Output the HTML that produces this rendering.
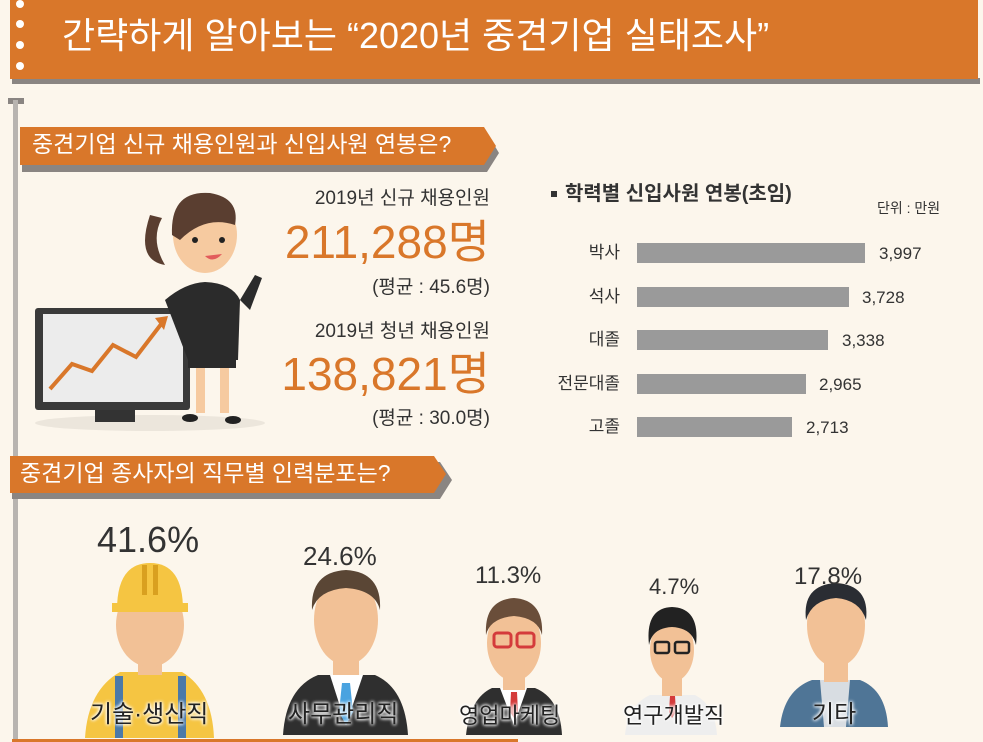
<!DOCTYPE html>
<html><head><meta charset="utf-8">
<style>
body{margin:0;width:983px;height:742px;overflow:hidden;background:#fcf6ec;font-family:"Liberation Sans","Noto Sans CJK KR",sans-serif;}
.t{position:absolute;white-space:nowrap;line-height:1;}
.lb{text-shadow:0 0 3px #fff,0 0 3px #fff,0 0 4px #fff;}
</style></head><body>
<svg width="983" height="742" style="position:absolute;left:0;top:0">
<rect x="12" y="78" width="968" height="6" fill="#8a8582"/>
<rect x="10" y="0" width="968" height="79" fill="#d9772a"/>
<g fill="#fff"><circle cx="20" cy="4" r="4"/><circle cx="20" cy="24" r="4"/><circle cx="20" cy="45" r="4"/><circle cx="20" cy="66" r="4"/></g>
<rect x="8" y="98" width="16" height="6" fill="#8a8582"/>
<rect x="13" y="100" width="5" height="642" fill="#b8b4b0"/>
<polygon points="22,133 487,133 499,153 487,172 22,172" fill="#8a8582"/>
<polygon points="20,127 484,127 496,146 484,165 20,165" fill="#d9772a"/>
<polygon points="12,462 440,462 452,480 440,499 12,499" fill="#8a8582"/>
<polygon points="10,456 434,456 446,474 434,493 10,493" fill="#d9772a"/>
<rect x="12" y="739" width="506" height="3" fill="#d9772a"/>
<ellipse cx="150" cy="423" rx="115" ry="8" fill="#ece6dc"/>
<rect x="35" y="308" width="155" height="102" rx="3" fill="#3a3a3a"/>
<rect x="43" y="314" width="140" height="88" fill="#ececec"/>
<polyline points="50,389 72,364 92,371 113,345 136,357 162,323" fill="none" stroke="#d9772a" stroke-width="4"/>
<polygon points="155,318 168,316 164,330" fill="#d9772a"/>
<rect x="95" y="410" width="40" height="12" fill="#333"/>
<path d="M150 215 Q135 260 165 265 Q150 240 162 218Z" fill="#5a3e30"/>
<ellipse cx="205" cy="235" rx="32" ry="38" fill="#f6caa0"/>
<path d="M172 235 Q170 190 210 193 Q240 198 235 225 Q205 215 180 240Z" fill="#5a3e30"/>
<circle cx="195" cy="240" r="3" fill="#222"/><circle cx="222" cy="240" r="3" fill="#222"/>
<path d="M205 256 Q213 264 222 254Z" fill="#e25b5b"/>
<path d="M165 300 Q185 283 205 282 Q232 283 240 300 L238 360 L188 360 Z" fill="#2b2b2b"/>
<path d="M240 300 L255 275 L262 278 L250 310Z" fill="#2b2b2b"/>
<rect x="188" y="340" width="48" height="28" fill="#2b2b2b"/>
<rect x="196" y="368" width="9" height="45" fill="#f6caa0"/><rect x="220" y="368" width="9" height="45" fill="#f6caa0"/>
<ellipse cx="190" cy="418" rx="8" ry="4" fill="#222"/><ellipse cx="233" cy="420" rx="8" ry="4" fill="#222"/>
<g fill="#9a9a9a">
<rect x="637" y="243" width="228" height="20"/>
<rect x="637" y="287" width="212" height="20"/>
<rect x="637" y="330" width="191" height="20"/>
<rect x="637" y="374" width="169" height="20"/>
<rect x="637" y="417" width="155" height="20"/>
</g>
<rect x="551" y="191" width="6" height="6" fill="#333"/>
<path d="M85 738 Q88 690 120 672 L182 672 Q212 690 214 738Z" fill="#f5c542"/>
<rect x="115" y="676" width="8" height="62" fill="#4b79a8"/><rect x="178" y="676" width="8" height="62" fill="#4b79a8"/>
<rect x="138" y="640" width="24" height="35" fill="#f2c196"/>
<ellipse cx="150" cy="625" rx="34" ry="42" fill="#f2c196"/>
<path d="M117 610 Q117 563 150 563 Q183 563 183 610Z" fill="#f5c542"/>
<rect x="112" y="603" width="76" height="9" fill="#f5c542"/>
<rect x="142" y="565" width="5" height="30" fill="#d9a020"/><rect x="153" y="565" width="5" height="30" fill="#d9a020"/>
<path d="M283 735 Q286 688 318 675 L375 675 Q405 688 408 735Z" fill="#2f2f2f"/>
<polygon points="330,675 363,675 346,725" fill="#fff"/><polygon points="342,683 350,683 353,712 346,725 339,712" fill="#4aa3e0"/>
<rect x="333" y="640" width="26" height="35" fill="#f2c196"/>
<ellipse cx="346" cy="620" rx="32" ry="45" fill="#f2c196"/>
<path d="M312 610 Q310 572 346 570 Q382 572 380 610 Q375 590 346 588 Q318 590 312 610Z" fill="#5a4635"/>
<path d="M466 735 Q470 698 492 688 L535 688 Q560 698 562 735Z" fill="#2f2f2f"/>
<polygon points="500,688 527,688 514,725" fill="#fff"/><polygon points="511,692 517,692 518,712 514,718 510,712" fill="#d43b3b"/>
<rect x="503" y="660" width="22" height="30" fill="#f2c196"/>
<ellipse cx="514" cy="643" rx="27" ry="38" fill="#f2c196"/>
<path d="M486 635 Q484 600 514 598 Q544 600 542 635 Q538 618 514 616 Q490 618 486 635Z" fill="#6a4e3a"/>
<rect x="494" y="633" width="17" height="14" rx="3" fill="none" stroke="#d43b3b" stroke-width="3"/><rect x="517" y="633" width="17" height="14" rx="3" fill="none" stroke="#d43b3b" stroke-width="3"/>
<path d="M625 735 Q628 705 650 695 L695 695 Q715 705 717 735Z" fill="#eeeeee"/>
<polygon points="670,696 675,696 676,712 672,718 669,712" fill="#d43b3b"/>
<rect x="662" y="668" width="20" height="28" fill="#f2c196"/>
<ellipse cx="672" cy="650" rx="22" ry="32" fill="#f2c196"/>
<path d="M649 645 Q645 608 672 607 Q700 608 696 645 Q692 628 672 627 Q652 628 649 645Z" fill="#222"/>
<rect x="655" y="642" width="14" height="11" rx="2" fill="none" stroke="#222" stroke-width="2.5"/><rect x="675" y="642" width="14" height="11" rx="2" fill="none" stroke="#222" stroke-width="2.5"/>
<path d="M780 727 Q784 690 812 680 L860 680 Q886 690 888 727Z" fill="#4f7596"/>
<polygon points="820,680 850,680 846,727 824,727" fill="#d8dde2"/>
<rect x="824" y="648" width="24" height="34" fill="#f2c196"/>
<ellipse cx="836" cy="625" rx="29" ry="42" fill="#f2c196"/>
<path d="M806 620 Q802 585 836 583 Q870 585 866 620 Q860 600 836 598 Q812 600 806 620Z" fill="#2a2d33"/>
</svg>
<div class="t" style="left:62px;top:18px;font-size:36px;color:#fff;">간략하게 알아보는 “2020년 중견기업 실태조사”</div>
<div class="t" style="left:32px;top:133px;font-size:23px;color:#fff;">중견기업 신규 채용인원과 신입사원 연봉은?</div>
<div class="t" style="left:20px;top:462px;font-size:23px;color:#fff;">중견기업 종사자의 직무별 인력분포는?</div>

<div class="t" style="right:493px;top:189px;font-size:19px;color:#333;">2019년 신규 채용인원</div>
<div class="t" style="right:493px;top:219px;font-size:46px;color:#d9772a;">211,288명</div>
<div class="t" style="right:493px;top:278px;font-size:19px;color:#333;">(평균 : 45.6명)</div>
<div class="t" style="right:493px;top:322px;font-size:19px;color:#333;">2019년 청년 채용인원</div>
<div class="t" style="right:493px;top:351px;font-size:46px;color:#d9772a;">138,821명</div>
<div class="t" style="right:493px;top:409px;font-size:19px;color:#333;">(평균 : 30.0명)</div>

<div class="t" style="left:565px;top:184px;font-size:20px;color:#333;font-weight:bold;">학력별 신입사원 연봉(초임)</div>
<div class="t" style="left:877px;top:201px;font-size:14px;color:#333;">단위 : 만원</div>
<div class="t" style="right:363px;top:244px;font-size:17px;color:#333;">박사</div>
<div class="t" style="right:363px;top:288px;font-size:17px;color:#333;">석사</div>
<div class="t" style="right:363px;top:331px;font-size:17px;color:#333;">대졸</div>
<div class="t" style="right:363px;top:375px;font-size:17px;color:#333;">전문대졸</div>
<div class="t" style="right:363px;top:418px;font-size:17px;color:#333;">고졸</div>
<div class="t" style="left:879px;top:245px;font-size:17px;color:#333;">3,997</div>
<div class="t" style="left:862px;top:289px;font-size:17px;color:#333;">3,728</div>
<div class="t" style="left:842px;top:332px;font-size:17px;color:#333;">3,338</div>
<div class="t" style="left:819px;top:376px;font-size:17px;color:#333;">2,965</div>
<div class="t" style="left:806px;top:419px;font-size:17px;color:#333;">2,713</div>

<div class="t" style="left:97px;top:522px;font-size:36px;color:#333;">41.6%</div>
<div class="t" style="left:303px;top:543px;font-size:26px;color:#333;">24.6%</div>
<div class="t" style="left:475px;top:564px;font-size:24px;color:#333;">11.3%</div>
<div class="t" style="left:649px;top:576px;font-size:22px;color:#333;">4.7%</div>
<div class="t" style="left:794px;top:565px;font-size:24px;color:#333;">17.8%</div>

<div class="t lb" style="left:90px;top:703px;font-size:24px;color:#222;">기술·생산직</div>
<div class="t lb" style="left:288px;top:703px;font-size:24px;color:#222;">사무관리직</div>
<div class="t lb" style="left:459px;top:705px;font-size:22px;color:#222;">영업마케팅</div>
<div class="t lb" style="left:623px;top:705px;font-size:22px;color:#222;">연구개발직</div>
<div class="t lb" style="left:812px;top:703px;font-size:24px;color:#222;">기타</div>
</body></html>
